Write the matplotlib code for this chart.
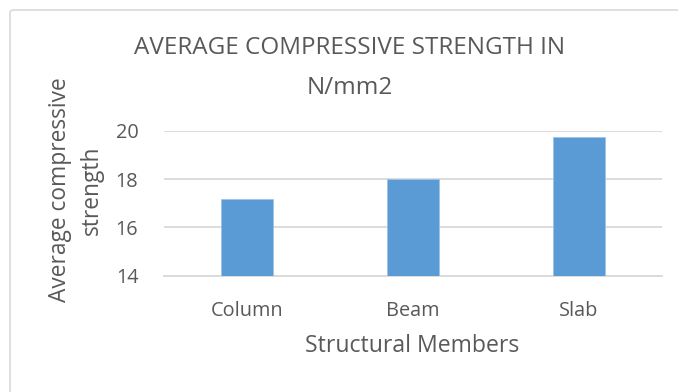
import matplotlib
matplotlib.use("Agg")
import matplotlib.pyplot as plt
from matplotlib.patches import FancyBboxPatch

# Average compressive strength (N/mm2) per structural member
members = ["Column", "Beam", "Slab"]
strength = [17.17, 18.0, 19.77]
y_ticks = [14, 16, 18, 20]

text_color = "#595959"
grid_color = "#D9D9D9"
bar_color = "#5B9BD5"

plt.rcParams["font.family"] = ["Open Sans", "DejaVu Sans"]

fig = plt.figure(figsize=(6.78, 3.92), dpi=100)

# Chart frame
frame = FancyBboxPatch((10 / 678, 1 - 10 / 392 - 1.2), 1.2, 1.2,
                       boxstyle="round,pad=0,rounding_size=0.006",
                       transform=fig.transFigure, facecolor="white",
                       edgecolor=grid_color, linewidth=1.2, zorder=-10)
fig.patches.append(frame)

ax = fig.add_axes([164 / 678, 1 - 275.7 / 392, (662 - 164) / 678, (275.7 - 131) / 392])
ax.set_facecolor("none")
ax.set_zorder(5)

x = range(len(members))
ax.bar(x, strength, width=0.313, color=bar_color, edgecolor="#9DC3E6",
       linewidth=0.6, zorder=3)

ax.set_xlim(-0.5, len(members) - 0.5)
ax.set_ylim(min(y_ticks), max(y_ticks))
ax.set_yticks(y_ticks)
ax.set_xticks(list(x))
ax.set_xticklabels(members)

ax.grid(axis="y", color=grid_color, linewidth=1.3, zorder=0)
ax.set_axisbelow(True)
for side in ["top", "right", "left"]:
    ax.spines[side].set_visible(False)
ax.spines["bottom"].set_color(grid_color)
ax.spines["bottom"].set_linewidth(1.3)
ax.tick_params(axis="both", length=0, labelsize=14.3, colors=text_color)
ax.tick_params(axis="y", pad=18.5)
ax.tick_params(axis="x", pad=18.5)

fig.text(350 / 678, 1 - 36 / 392, "AVERAGE COMPRESSIVE STRENGTH IN\nN/mm2",
         ha="center", va="top", fontsize=17.5, color=text_color, linespacing=1.9,
         zorder=6)

fig.text(76 / 678, 1 - 190 / 392, "Average compressive\nstrength",
         rotation=90, ha="center", va="center", fontsize=16.4,
         color=text_color, linespacing=1.4, zorder=6)

fig.text(412 / 678, 1 - 346.5 / 392, "Structural Members",
         ha="center", va="center", fontsize=16.6, color=text_color, zorder=6)

fig.savefig("out.png", dpi=100)
